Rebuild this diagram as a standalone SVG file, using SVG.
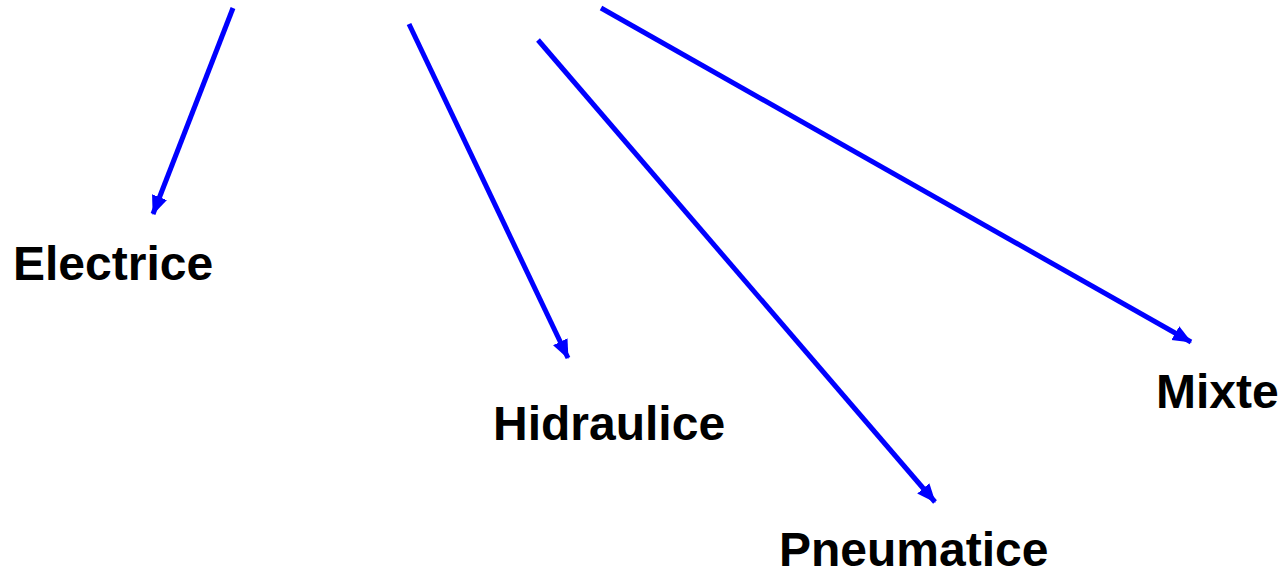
<svg xmlns="http://www.w3.org/2000/svg" width="1285" height="577" viewBox="0 0 1285 577">
<style>
.lbl{font-family:"Liberation Sans",Arial,sans-serif;font-weight:bold;font-size:48px;fill:#000}
</style>
<defs>
<marker id="ah" markerUnits="userSpaceOnUse" viewBox="0 0 20 20" markerWidth="20" markerHeight="20" refX="18" refY="10" orient="auto">
<path d="M0,2 L19,10 L0,18 Z" fill="#0000ff"/>
</marker>
</defs>
<rect width="1285" height="577" fill="#fff"/>
<g id="connectors" stroke="#0000ff" stroke-width="5" fill="none" marker-end="url(#ah)">
<line x1="233" y1="8" x2="153" y2="214" marker-end="url(#ah)"/>
<line x1="409" y1="24" x2="568" y2="358" marker-end="url(#ah)"/>
<line x1="538" y1="40" x2="935" y2="502" marker-end="url(#ah)"/>
<line x1="601" y1="8" x2="1191" y2="342" marker-end="url(#ah)"/>
</g>
<g id="electrice"><text class="lbl" x="13" y="280">Electrice</text></g>
<g id="hidraulice"><text class="lbl" x="493" y="440">Hidraulice</text></g>
<g id="pneumatice"><text class="lbl" x="779" y="566">Pneumatice</text></g>
<g id="mixte"><text class="lbl" x="1156" y="408">Mixte</text></g>
</svg>
